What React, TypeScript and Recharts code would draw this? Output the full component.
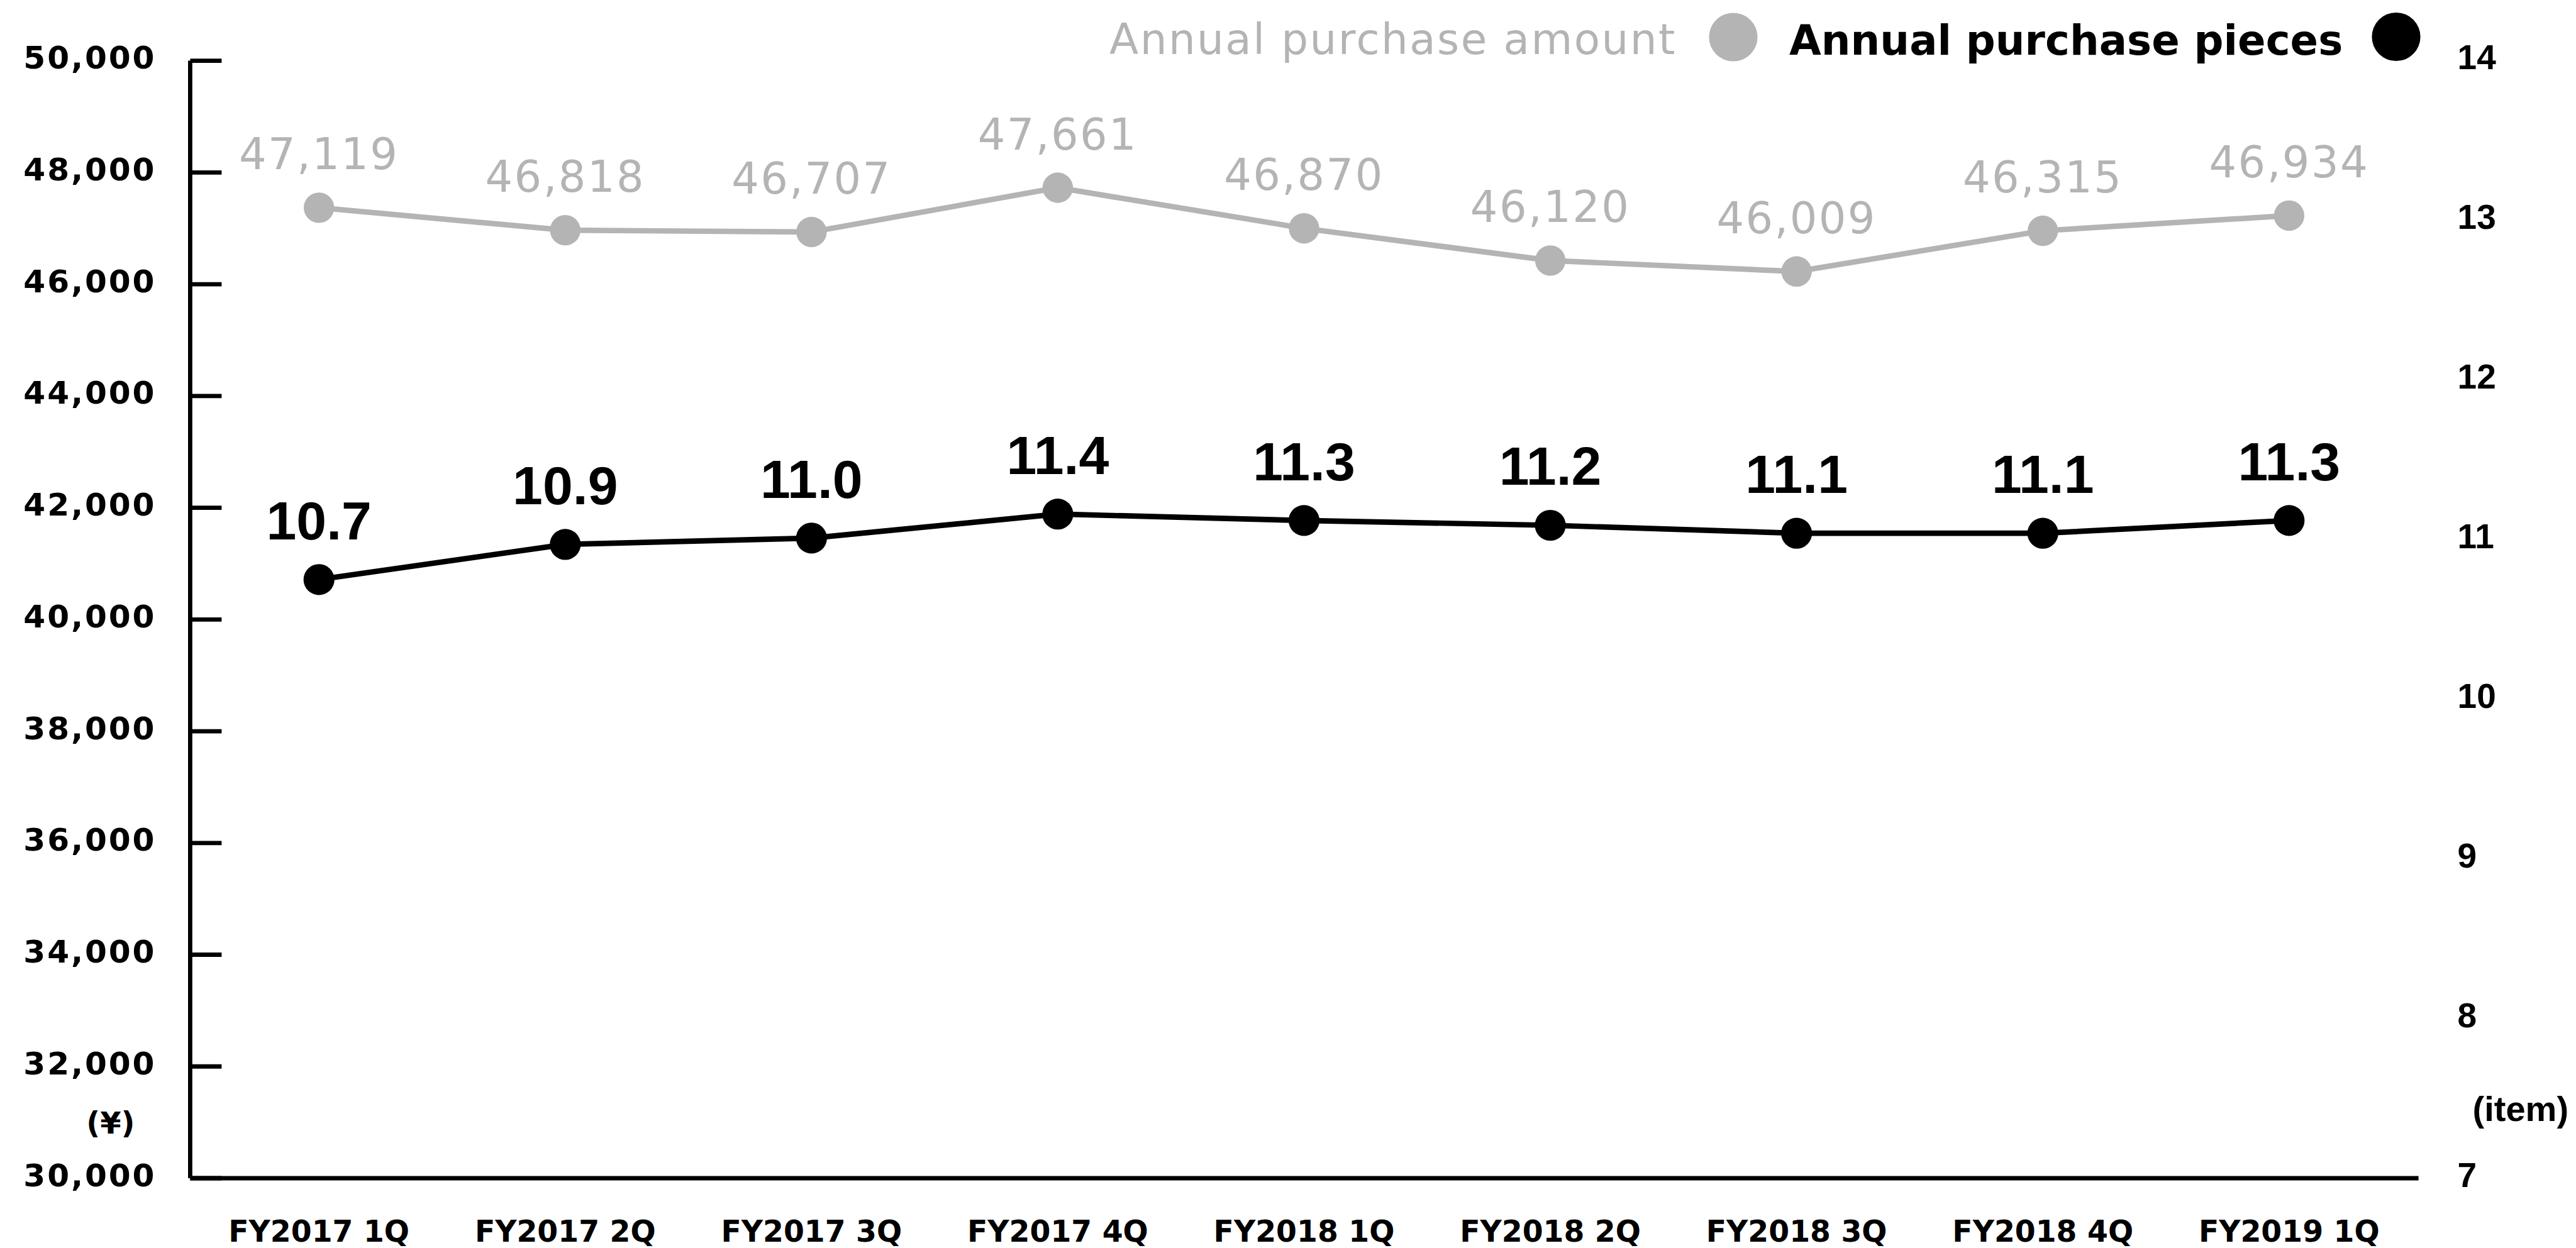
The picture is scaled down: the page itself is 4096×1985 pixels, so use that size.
import React from 'react';
import { LineChart, Line, XAxis, YAxis, Legend } from 'recharts';

// ---- data ----
const categories = [
  'FY2017 1Q', 'FY2017 2Q', 'FY2017 3Q', 'FY2017 4Q',
  'FY2018 1Q', 'FY2018 2Q', 'FY2018 3Q', 'FY2018 4Q', 'FY2019 1Q',
];
// plotted positions of the grey series (left axis, yen)
const amountValues = [47370, 46967, 46935, 47728, 47000, 46424, 46228, 46957, 47228];
// printed labels of the grey series
const amountLabels = ['47,119', '46,818', '46,707', '47,661', '46,870', '46,120', '46,009', '46,315', '46,934'];
// plotted positions of the black series (right axis, items)
const piecesValues = [10.75, 10.97, 11.01, 11.16, 11.12, 11.09, 11.04, 11.04, 11.12];
// printed labels of the black series
const piecesLabels = ['10.7', '10.9', '11.0', '11.4', '11.3', '11.2', '11.1', '11.1', '11.3'];

const leftTicks = [30000, 32000, 34000, 36000, 38000, 40000, 42000, 44000, 46000, 48000, 50000];
const rightTicks = [7, 8, 9, 10, 11, 12, 13, 14];
const legendNames = ['Annual purchase amount', 'Annual purchase pieces'];
const leftUnit = '(¥)';
const rightUnit = '(item)';

const data = categories.map((c, i) => ({
  category: c,
  amount: amountValues[i],
  amountLabel: amountLabels[i],
  pieces: piecesValues[i],
  piecesLabel: piecesLabels[i],
}));

// ---- styling ----
const W = 4096;
const H = 1985;
const GRAY = '#b4b4b4';
const BLACK = '#000000';
const WIDE = '"DejaVu Sans", sans-serif';
const NARROW = '"Liberation Sans", Arial, sans-serif';

const LeftTick = (props: any) => {
  const { x, y, payload } = props;
  const v = payload.value as number;
  return (
    <g>
      <line x1={x} x2={x + 50} y1={y} y2={y} stroke={BLACK} strokeWidth={6.8} />
      <text
        x={x - 54}
        y={y + 12.6}
        textAnchor="end"
        fontFamily={WIDE}
        fontWeight="bold"
        fontSize={50.2}
        letterSpacing={2.9}
        fill={BLACK}
      >
        {v.toLocaleString('en-US')}
      </text>
      {v === leftTicks[0] ? (
        <text
          x={x - 126.5}
          y={y - 71.5}
          textAnchor="middle"
          fontFamily={WIDE}
          fontWeight="bold"
          fontSize={48}
          fill={BLACK}
        >
          {leftUnit}
        </text>
      ) : null}
    </g>
  );
};

const RightTick = (props: any) => {
  const { x, y, payload } = props;
  const v = payload.value as number;
  return (
    <g>
      <text
        x={x + 62}
        y={y + 13.5}
        textAnchor="start"
        fontFamily={NARROW}
        fontWeight="bold"
        fontSize={55}
        fill={BLACK}
      >
        {String(v)}
      </text>
      {v === rightTicks[0] ? (
        <text
          x={x + 86}
          y={y - 90.8}
          textAnchor="start"
          fontFamily={NARROW}
          fontWeight="bold"
          fontSize={56}
          fill={BLACK}
        >
          {rightUnit}
        </text>
      ) : null}
    </g>
  );
};

const BottomTick = (props: any) => {
  const { x, y, payload } = props;
  return (
    <text
      x={x}
      y={y + 101.4}
      textAnchor="middle"
      fontFamily={WIDE}
      fontWeight="bold"
      fontSize={47.3}
      fill={BLACK}
    >
      {payload.value}
    </text>
  );
};

const AmountDot = (props: any) => {
  const { cx, cy, payload, index } = props;
  if (cx == null || cy == null) return null;
  return (
    <g key={`amount-dot-${index}`}>
      <circle cx={cx} cy={cy} r={24.2} fill={GRAY} />
      <text
        x={cx}
        y={cy - 61}
        textAnchor="middle"
        fontFamily={WIDE}
        fontSize={68.6}
        letterSpacing={2.4}
        fill={GRAY}
      >
        {payload.amountLabel}
      </text>
    </g>
  );
};

const PiecesDot = (props: any) => {
  const { cx, cy, payload, index } = props;
  if (cx == null || cy == null) return null;
  return (
    <g key={`pieces-dot-${index}`}>
      <circle cx={cx} cy={cy} r={24.6} fill={BLACK} />
      <text
        x={cx}
        y={cy - 64}
        textAnchor="middle"
        fontFamily={NARROW}
        fontWeight="bold"
        fontSize={86}
        fill={BLACK}
      >
        {payload.piecesLabel}
      </text>
    </g>
  );
};

const LegendContent = () => (
  <svg
    width={W}
    height={140}
    style={{ position: 'absolute', left: 0, top: 0, overflow: 'visible' }}
  >
    <text x={1764} y={86} fontFamily={WIDE} fontSize={67.6} letterSpacing={2.4} fill={GRAY}>
      {legendNames[0]}
    </text>
    <circle cx={2756} cy={59} r={38.6} fill={GRAY} />
    <text x={2845} y={87} fontFamily={WIDE} fontWeight="bold" fontSize={65.7} fill={BLACK}>
      {legendNames[1]}
    </text>
    <circle cx={3810} cy={58.5} r={38.6} fill={BLACK} />
  </svg>
);

export default function App() {
  return (
    <div style={{ position: 'absolute', left: 0, top: 0, width: W, height: H, background: '#ffffff' }}>
      <LineChart
        width={W}
        height={H}
        data={data}
        margin={{ top: 96.6, right: 0, bottom: 0, left: 0 }}
      >
        <XAxis
          dataKey="category"
          height={111}
          padding={{ left: 204.8, right: 205.8 }}
          axisLine={{ stroke: BLACK, strokeWidth: 6.8 }}
          tickLine={false}
          tickSize={0}
          tickMargin={0}
          interval={0}
          tick={<BottomTick />}
        />
        <YAxis
          yAxisId="left"
          type="number"
          domain={[30000, 50000]}
          ticks={leftTicks}
          allowDataOverflow
          width={302.4}
          axisLine={{ stroke: BLACK, strokeWidth: 6.8 }}
          tickLine={false}
          tickSize={0}
          tickMargin={0}
          interval={0}
          tick={<LeftTick />}
        />
        <YAxis
          yAxisId="right"
          orientation="right"
          type="number"
          domain={[7, 14]}
          ticks={rightTicks}
          allowDataOverflow
          width={250.4}
          axisLine={false}
          tickLine={false}
          tickSize={0}
          tickMargin={0}
          interval={0}
          tick={<RightTick />}
        />
        <Legend
          content={<LegendContent />}
          wrapperStyle={{ position: 'absolute', left: 0, top: 0, width: W, height: 0, overflow: 'visible' }}
        />
        <Line
          yAxisId="left"
          type="linear"
          dataKey="amount"
          stroke={GRAY}
          strokeWidth={8.7}
          dot={<AmountDot />}
          activeDot={false}
          isAnimationActive={false}
        />
        <Line
          yAxisId="right"
          type="linear"
          dataKey="pieces"
          stroke={BLACK}
          strokeWidth={8.7}
          dot={<PiecesDot />}
          activeDot={false}
          isAnimationActive={false}
        />
      </LineChart>
    </div>
  );
}
